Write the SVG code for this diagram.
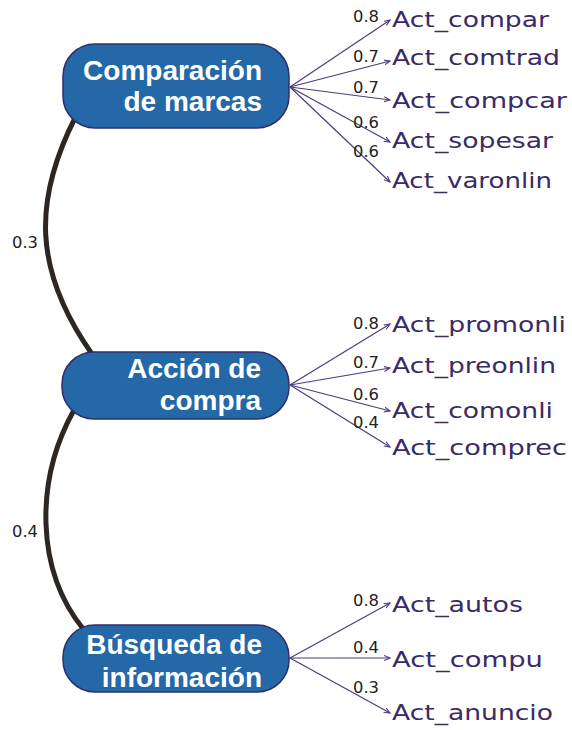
<svg xmlns="http://www.w3.org/2000/svg" width="572" height="730" viewBox="0 0 572 730">
<style>
.node rect{fill:#2568a8;stroke:#2e2f6b;stroke-width:1.5}
.node text{font-family:"Liberation Sans",Arial,sans-serif;font-weight:bold;font-size:28px;fill:#ffffff;text-anchor:end}
.trunk{fill:none;stroke:#2d2623;stroke-width:5;stroke-linecap:round}
.edge{fill:none;stroke:#4b3c7e;stroke-width:1.2;marker-end:url(#arr)}
.lbl{font-family:"DejaVu Sans",Verdana,sans-serif;font-size:21px;fill:#3a2b66}
.w{font-family:"DejaVu Sans",Verdana,sans-serif;font-size:16px;fill:#222222}
</style>
<defs>
<marker id="arr" markerUnits="userSpaceOnUse" markerWidth="7" markerHeight="7" refX="6" refY="3" orient="auto">
<path d="M0,0.5 L6,3 L0,5.5" fill="none" stroke="#4b3c7e" stroke-width="1.1"/>
</marker>
</defs>
<g id="connectors">
<path class="trunk" d="M76 116 C33 200 33 270 92 354"/>
<path class="trunk" d="M74 410 C35 480 35 570 84 630"/>
<text class="w" x="12" y="248" textLength="26" lengthAdjust="spacingAndGlyphs">0.3</text>
<text class="w" x="12" y="537" textLength="26" lengthAdjust="spacingAndGlyphs">0.4</text>
<path class="edge" d="M290 87 L390 20"/>
<path class="edge" d="M290 87 L390 61"/>
<path class="edge" d="M290 87 L390 100"/>
<path class="edge" d="M290 87 L390 142"/>
<path class="edge" d="M290 87 L390 182"/>
<text class="w" x="353" y="22" textLength="26" lengthAdjust="spacingAndGlyphs">0.8</text>
<text class="w" x="353" y="62" textLength="26" lengthAdjust="spacingAndGlyphs">0.7</text>
<text class="w" x="353" y="93" textLength="26" lengthAdjust="spacingAndGlyphs">0.7</text>
<text class="w" x="353" y="128" textLength="26" lengthAdjust="spacingAndGlyphs">0.6</text>
<text class="w" x="353" y="157" textLength="26" lengthAdjust="spacingAndGlyphs">0.6</text>
<path class="edge" d="M290 385 L390 324"/>
<path class="edge" d="M290 385 L390 368"/>
<path class="edge" d="M290 385 L390 411"/>
<path class="edge" d="M290 385 L390 447"/>
<text class="w" x="353" y="329" textLength="26" lengthAdjust="spacingAndGlyphs">0.8</text>
<text class="w" x="353" y="368" textLength="26" lengthAdjust="spacingAndGlyphs">0.7</text>
<text class="w" x="353" y="400" textLength="26" lengthAdjust="spacingAndGlyphs">0.6</text>
<text class="w" x="353" y="428" textLength="26" lengthAdjust="spacingAndGlyphs">0.4</text>
<path class="edge" d="M290 658 L390 603"/>
<path class="edge" d="M290 658 L390 658"/>
<path class="edge" d="M290 658 L390 713"/>
<text class="w" x="353" y="606" textLength="26" lengthAdjust="spacingAndGlyphs">0.8</text>
<text class="w" x="353" y="653" textLength="26" lengthAdjust="spacingAndGlyphs">0.4</text>
<text class="w" x="353" y="693" textLength="26" lengthAdjust="spacingAndGlyphs">0.3</text>
</g>
<g id="n1" class="node">
<rect x="63" y="44" width="226" height="84" rx="32"/>
<text x="262" y="80">Comparación</text>
<text x="262" y="111">de marcas</text>
</g>
<g id="n2" class="node">
<rect x="62" y="352" width="227" height="67" rx="32"/>
<text x="261" y="378">Acción de</text>
<text x="261" y="410">compra</text>
</g>
<g id="n3" class="node">
<rect x="63" y="625" width="226" height="67" rx="32"/>
<text x="262" y="654">Búsqueda de</text>
<text x="262" y="687">información</text>
</g>
<g id="l1"><text class="lbl" x="392" y="27" textLength="157" lengthAdjust="spacingAndGlyphs">Act_compar</text></g>
<g id="l2"><text class="lbl" x="392" y="65" textLength="168" lengthAdjust="spacingAndGlyphs">Act_comtrad</text></g>
<g id="l3"><text class="lbl" x="392" y="108" textLength="175" lengthAdjust="spacingAndGlyphs">Act_compcar</text></g>
<g id="l4"><text class="lbl" x="392" y="148" textLength="161" lengthAdjust="spacingAndGlyphs">Act_sopesar</text></g>
<g id="l5"><text class="lbl" x="392" y="188" textLength="160" lengthAdjust="spacingAndGlyphs">Act_varonlin</text></g>
<g id="l6"><text class="lbl" x="392" y="332" textLength="174" lengthAdjust="spacingAndGlyphs">Act_promonli</text></g>
<g id="l7"><text class="lbl" x="392" y="373" textLength="164" lengthAdjust="spacingAndGlyphs">Act_preonlin</text></g>
<g id="l8"><text class="lbl" x="392" y="418" textLength="161" lengthAdjust="spacingAndGlyphs">Act_comonli</text></g>
<g id="l9"><text class="lbl" x="392" y="455" textLength="175" lengthAdjust="spacingAndGlyphs">Act_comprec</text></g>
<g id="l10"><text class="lbl" x="392" y="612" textLength="131" lengthAdjust="spacingAndGlyphs">Act_autos</text></g>
<g id="l11"><text class="lbl" x="392" y="667" textLength="151" lengthAdjust="spacingAndGlyphs">Act_compu</text></g>
<g id="l12"><text class="lbl" x="392" y="720" textLength="161" lengthAdjust="spacingAndGlyphs">Act_anuncio</text></g>
</svg>
